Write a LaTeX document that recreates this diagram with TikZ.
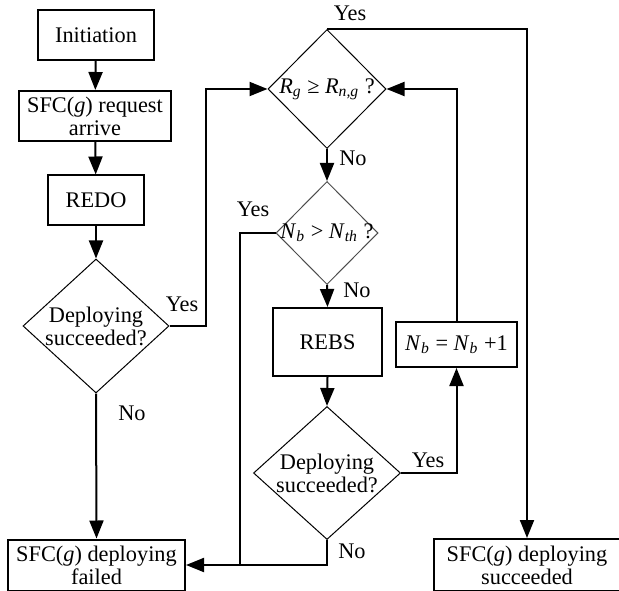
\documentclass[tikz,border=0pt]{standalone}
\usepackage{fontspec}
\setmainfont{Liberation Serif}
\usetikzlibrary{shapes.geometric,arrows.meta}
\newcommand{\iv}[2]{\textit{#1}\textsubscript{\textit{#2}}}
\begin{document}
\begin{tikzpicture}[
   x=0.5bp,y=-0.5bp,
   font=\fontsize{11.2}{11.5}\selectfont,
   box/.style={draw,line width=1bp,inner sep=0pt,align=center},
   decision/.style={draw,diamond,line width=0.5bp,inner sep=0pt,aspect=1},
   flow/.style={-{Triangle[length=9bp,width=7bp]},line width=1bp},
   seg/.style={line width=1bp}]
\useasboundingbox (0,0) rectangle (619,591);
% left column
\node[box,minimum width=58bp,minimum height=25bp] (init) at (96,35) {Initiation};
\node[box,minimum width=75.5bp,minimum height=25bp] (arrive) at (95,116) {SFC(\textit{g}) request\\arrive};
\node[box,minimum width=47.5bp,minimum height=24.5bp] (redo) at (96,200) {REDO};
\node[decision,minimum width=73bp,minimum height=67bp,
      label={[align=center]center:Deploying\\succeeded?}] (dep1) at (96,326) {};
\node[box,minimum width=88.5bp,minimum height=25.5bp] (fail) at (96.5,565) {SFC(\textit{g}) deploying\\failed};
% middle column
\node[decision,minimum width=59bp,minimum height=59.5bp,
      label={center:\iv{R}{g} ≥ \iv{R}{n,g} ?}] (rate) at (327,89) {};
\node[decision,minimum width=51bp,minimum height=51.5bp,draw=black!70,
      label={center:\iv{N}{b} > \iv{N}{th} ?}] (nbth) at (327,233) {};
\node[box,minimum width=54.5bp,minimum height=34bp] (rebs) at (327.5,342) {REBS};
\node[decision,minimum width=73.5bp,minimum height=66.5bp,
      label={[align=center]center:Deploying\\succeeded?}] (dep2) at (327,473) {};
% right column
\node[box,minimum width=60.5bp,minimum height=22.5bp] (inc) at (456.5,344.5) {\iv{N}{b} = \iv{N}{b} +1};
\node[box,minimum width=93bp,minimum height=26bp] (succ) at (527,565) {SFC(\textit{g}) deploying\\succeeded};
\coordinate (join) at (240,565);

\draw[flow] (init) -- (arrive);
\draw[flow] (arrive) -- (redo);
\draw[flow] (redo) -- (dep1);
\draw[flow] (dep1.east) -- ++(36,0) |- (rate.west);
\draw[flow] (dep1.south) -- (fail.north);
\draw[flow] (rate.north) -| (succ.north);
\draw[flow] (rate.south) -- (nbth.north);
\draw[seg] (nbth.west) -| (join);
\draw[flow] (nbth.south) -- (rebs.north);
\draw[flow] (rebs.south) -- (dep2.north);
\draw[flow] (dep2.east) -| (inc.south);
\draw[flow] (inc.north) |- (rate.east);
\draw[flow] (dep2.south) |- (fail.east);

% branch labels
\node (y1) at (182,304) {Yes};
\node (n1) at (132,413) {No};
\node (y2) at (350,13) {Yes};
\node (n2) at (353,158) {No};
\node (y3) at (253,209) {Yes};
\node (n3) at (357,290) {No};
\node (y4) at (428,460) {Yes};
\node (n4) at (352,551) {No};
\end{tikzpicture}
\end{document}
